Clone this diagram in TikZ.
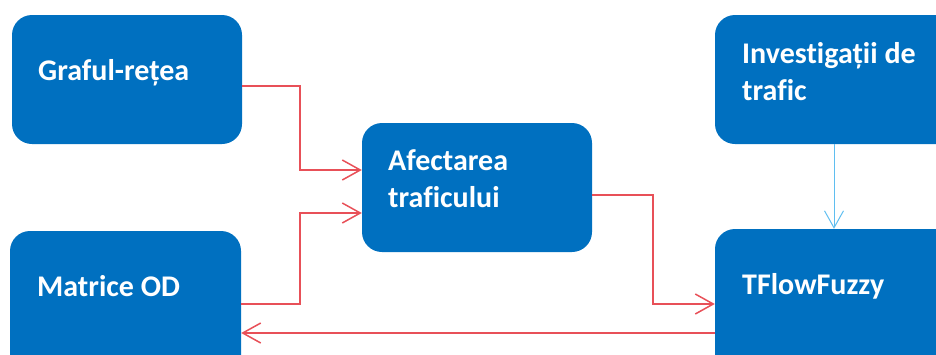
\documentclass[tikz,border=0pt]{standalone}
\usepackage{fontspec}
\setmainfont{Carlito}[Ligatures=NoCommon]
\usetikzlibrary{arrows.meta}
\definecolor{boxblue}{RGB}{0,112,192}
\definecolor{linered}{RGB}{232,80,88}
\definecolor{lineblue}{RGB}{95,190,240}
\begin{document}
\begin{tikzpicture}[x=1pt,y=-1pt,
  bluebox/.style={fill=boxblue, rounded corners=20pt, inner sep=0pt, draw=none},
  boxtext/.style={anchor=base west, inner sep=0pt, text=white, align=left,
    font=\fontsize{30}{37}\selectfont\bfseries},
  redline/.style={draw=linered, line width=1.5pt,
    -{Straight Barb[length=18pt,width=20pt,line width=1.5pt]}},
  blueline/.style={draw=lineblue, line width=1pt,
    -{Straight Barb[length=17pt,width=19pt,line width=1pt]}}]
\useasboundingbox (0,0) rectangle (936,354);
\clip (0,0) rectangle (936,354);
\node[bluebox, minimum width=230pt, minimum height=129pt] (g) at (127,79.5) {};
\node[bluebox, minimum width=231pt, minimum height=149pt] (m) at (125.5,305.5) {};
\node[bluebox, minimum width=230pt, minimum height=129pt] (a) at (477,187.5) {};
\node[bluebox, minimum width=245pt, minimum height=129pt] (inv) at (837.5,79.5) {};
\node[bluebox, minimum width=245pt, minimum height=151pt] (tf) at (837.5,304.5) {};
\node[boxtext] (gt) at (38,80) {Graful-rețea};
\node[boxtext] (mt) at (37,296) {Matrice OD};
\node[boxtext] (at) at (388,207) {Afectarea\\traficului};
\node[boxtext] (it) at (742,100) {Investigații de\\trafic};
\node[boxtext] (tt) at (742,294) {TFlowFuzzy};
\draw[redline] (g.east |- 0,86) -- (300,86) |- (a.west |- 0,170);
\draw[redline] (m.east |- 0,304) -- (300,304) |- (a.west |- 0,213);
\draw[redline] (a.east |- 0,195) -- (653,195) |- (tf.west |- 0,304);
\draw[redline] (tf.west |- 0,333) -- (m.east |- 0,333);
\draw[blueline] (inv.south -| 834,0) -- (tf.north -| 834,0);
\end{tikzpicture}
\end{document}
